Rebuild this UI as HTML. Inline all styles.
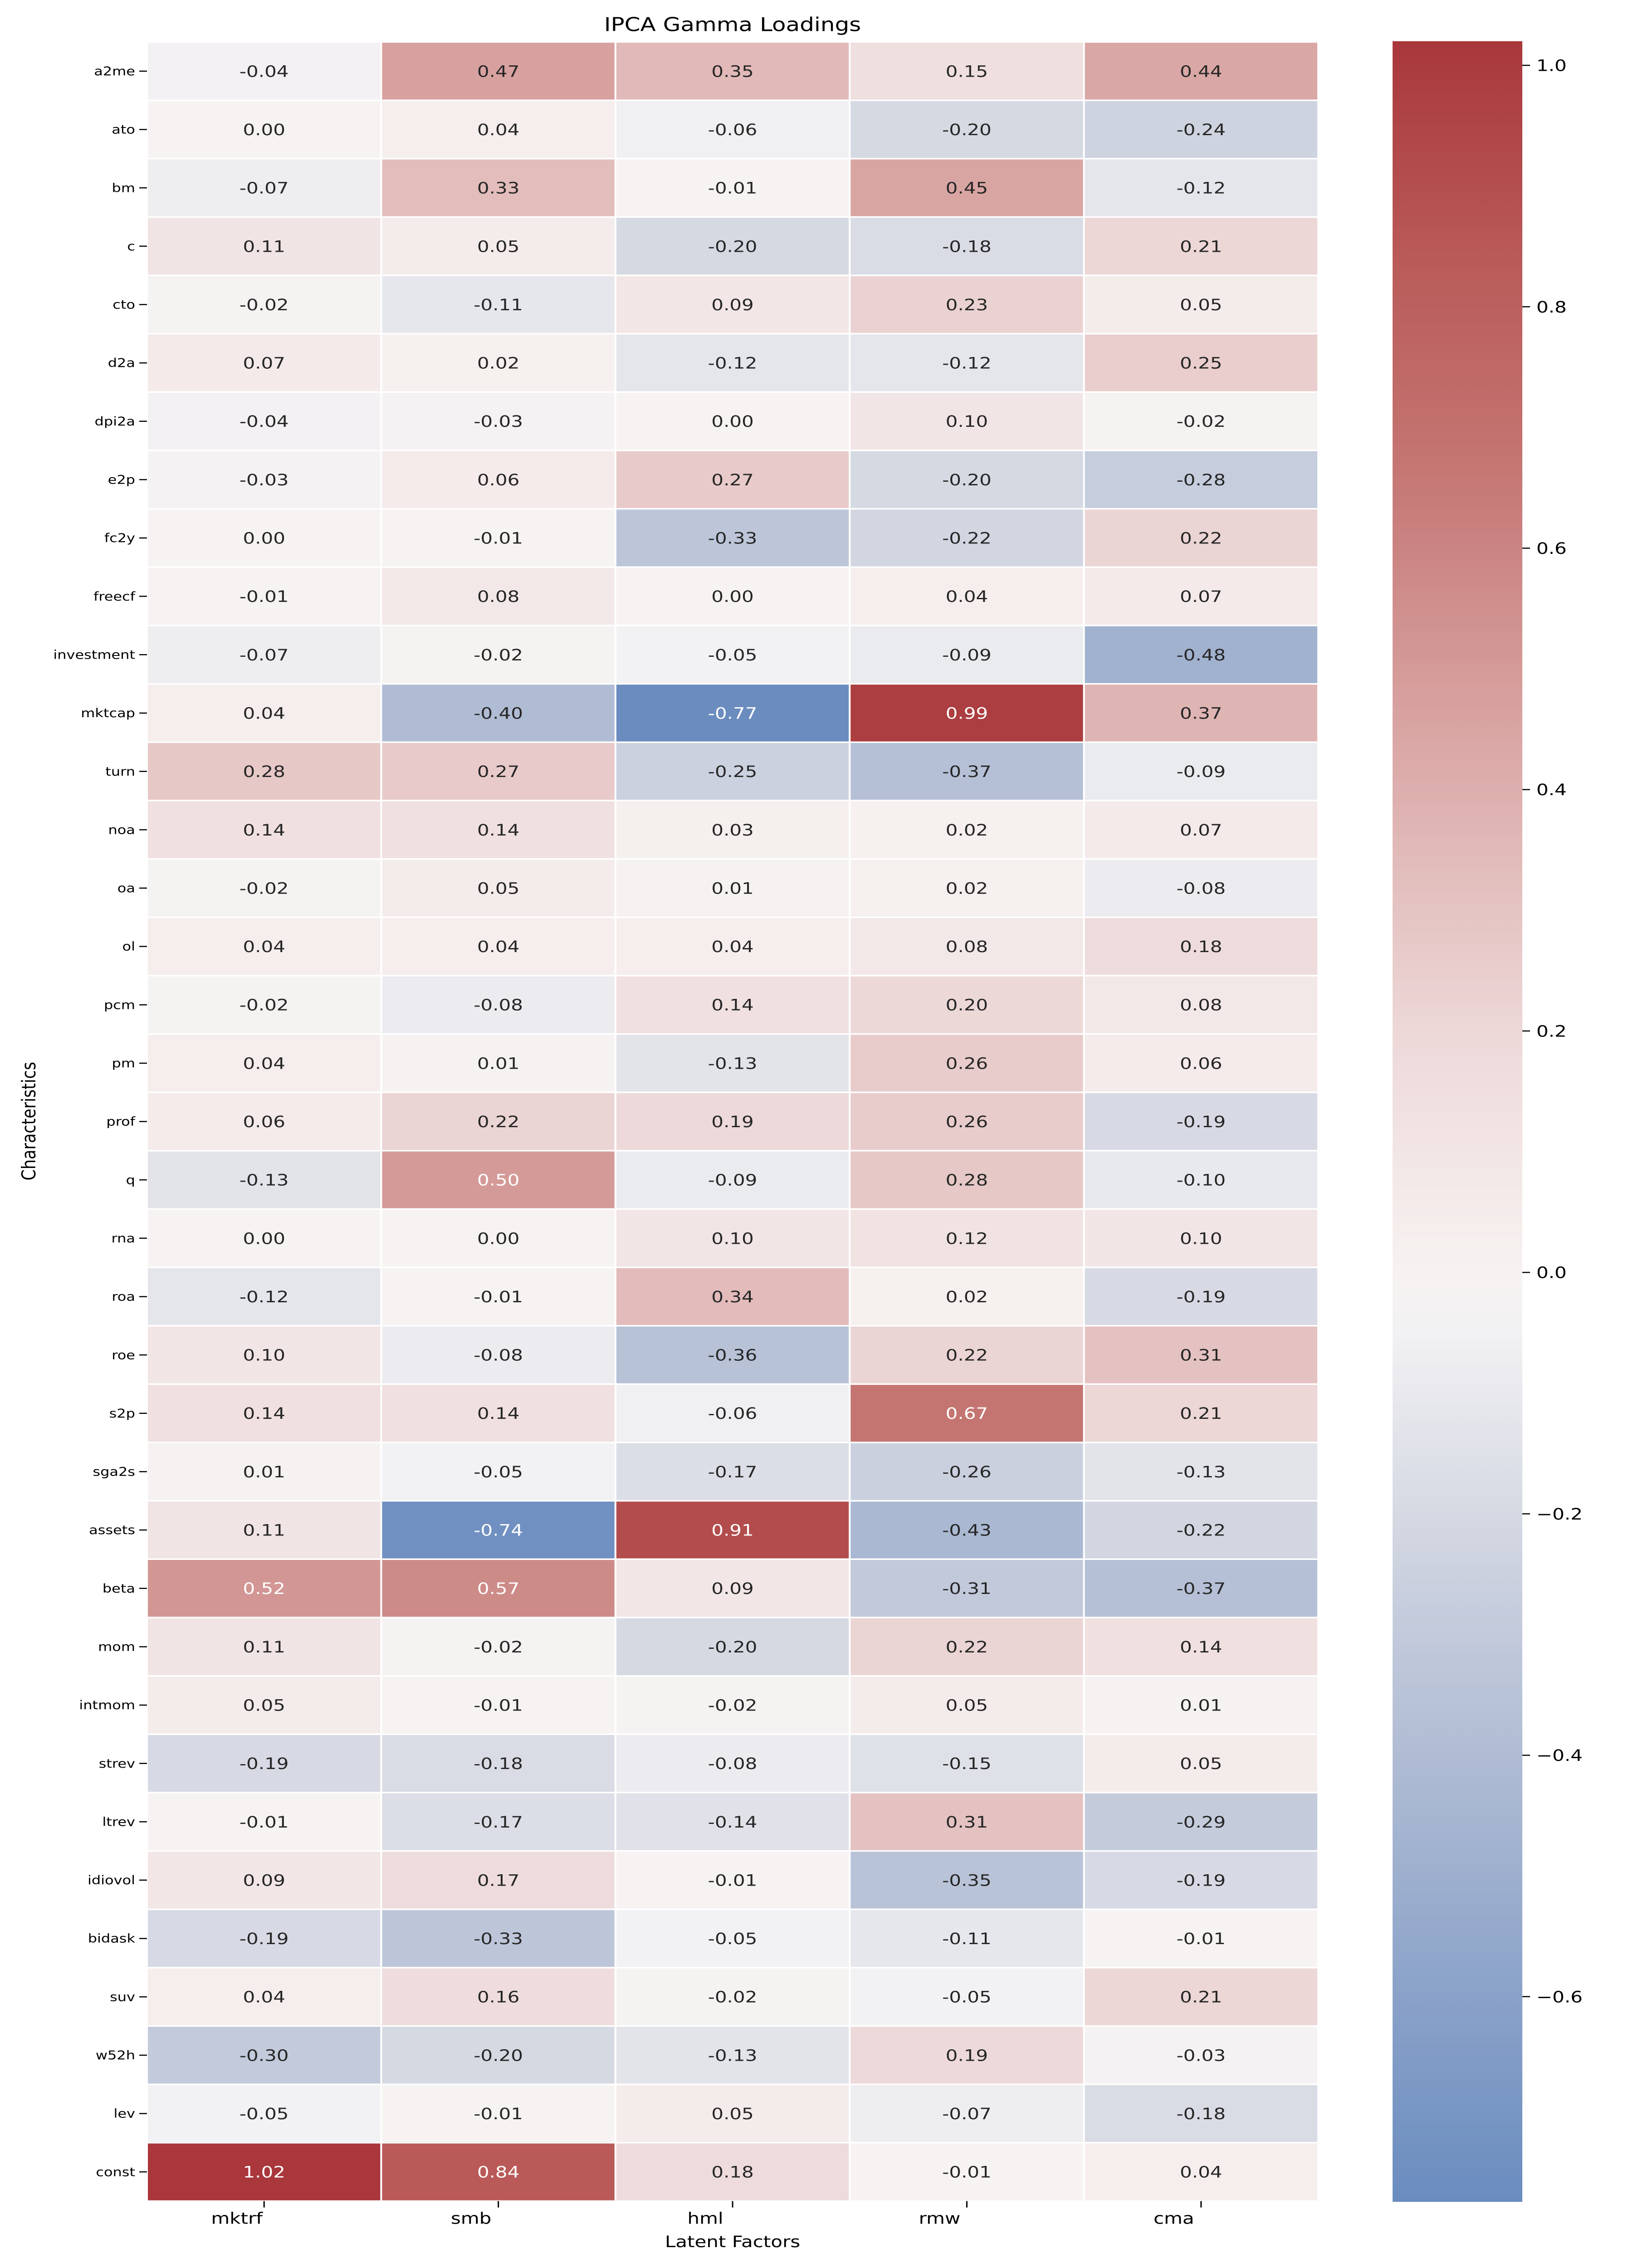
<!DOCTYPE html>
<html><head><meta charset="utf-8"><style>
html,body{margin:0;padding:0;background:#fff;width:100%;height:100%;overflow:hidden;}
svg{display:block;width:100vw;height:100vh;font-family:"DejaVu Sans","Liberation Sans",sans-serif;}
</style></head><body>
<svg id="chart" viewBox="0 0 3600 6000" preserveAspectRatio="none" xmlns="http://www.w3.org/2000/svg">
<rect width="3600" height="6000" fill="#fff"/>
<text x="1615" y="82" font-size="50" text-anchor="middle">IPCA Gamma Loadings</text>
<text x="1615" y="5945" font-size="42" text-anchor="middle">Latent Factors</text>
<text x="0" y="0" font-size="42" text-anchor="middle" transform="translate(78,2966) rotate(-90)">Characteristics</text>
<g id="cells"></g><g id="yticks"></g><g id="xticks"></g>
<defs><linearGradient id="cbgrad" x1="0" y1="1" x2="0" y2="0"></linearGradient></defs>
<rect x="3070" y="109" width="286" height="5716" fill="url(#cbgrad)"/>
<g id="cbticks"></g>
</svg>
<script>
const rows = ["a2me","ato","bm","c","cto","d2a","dpi2a","e2p","fc2y","freecf","investment","mktcap","turn","noa","oa","ol","pcm","pm","prof","q","rna","roa","roe","s2p","sga2s","assets","beta","mom","intmom","strev","ltrev","idiovol","bidask","suv","w52h","lev","const"];
const cols = ["mktrf","smb","hml","rmw","cma"];
const mktrf = [-0.04,0.00,-0.07,0.11,-0.02,0.07,-0.04,-0.03,-0.00,-0.01,-0.07,0.04,0.28,0.14,-0.02,0.04,-0.02,0.04,0.06,-0.13,0.00,-0.12,0.10,0.14,0.01,0.11,0.52,0.11,0.05,-0.19,-0.01,0.09,-0.19,0.04,-0.30,-0.05,1.02];
const smb = [0.47,0.04,0.33,0.05,-0.11,0.02,-0.03,0.06,-0.01,0.08,-0.02,-0.40,0.27,0.14,0.05,0.04,-0.08,0.01,0.22,0.50,-0.00,-0.01,-0.08,0.14,-0.05,-0.74,0.57,-0.02,-0.01,-0.18,-0.17,0.17,-0.33,0.16,-0.20,-0.01,0.84];
const hml = [0.35,-0.06,-0.01,-0.20,0.09,-0.12,0.00,0.27,-0.33,-0.00,-0.05,-0.77,-0.25,0.03,0.01,0.04,0.14,-0.13,0.19,-0.09,0.10,0.34,-0.36,-0.06,-0.17,0.91,0.09,-0.20,-0.02,-0.08,-0.14,-0.01,-0.05,-0.02,-0.13,0.05,0.18];
const rmw = [0.15,-0.20,0.45,-0.18,0.23,-0.12,0.10,-0.20,-0.22,0.04,-0.09,0.99,-0.37,0.02,0.02,0.08,0.20,0.26,0.26,0.28,0.12,0.02,0.22,0.67,-0.26,-0.43,-0.31,0.22,0.05,-0.15,0.31,-0.35,-0.11,-0.05,0.19,-0.07,-0.01];
const cma = [0.44,-0.24,-0.12,0.21,0.05,0.25,-0.02,-0.28,0.22,0.07,-0.48,0.37,-0.09,0.07,-0.08,0.18,0.08,0.06,-0.19,-0.10,0.10,-0.19,0.31,0.21,-0.13,-0.22,-0.37,0.14,0.01,0.05,-0.29,-0.19,-0.01,0.21,-0.03,-0.18,0.04];
const series = [mktrf, smb, hml, rmw, cma];
const cbTicks = [1.0,0.8,0.6,0.4,0.2,0.0,-0.2,-0.4,-0.6];

const NS="http://www.w3.org/2000/svg";
const X0=324,X1=2906,Y0=111,Y1=5823;
const cw=(X1-X0)/cols.length, rh=(Y1-Y0)/rows.length;
const all=series.flat();
const vmax=Math.max(...all), vmin=Math.min(...all);
const R=Math.max(Math.abs(vmax),Math.abs(vmin));
const stops=[[0,[35,105,189]],[0.123,[106,140,191]],[0.304,[176,188,212]],[0.40,[212,216,226]],[0.475,[242,241,243]],[0.5,[247,243,242]],[0.598,[237,216,216]],[0.73,[215,161,159]],[0.828,[196,117,114]],[0.91,[185,91,89]],[1,[169,55,59]]];
function cmap(v){let t=(v+R)/(2*R);t=Math.max(0,Math.min(1,t));
 for(let i=1;i<stops.length;i++){if(t<=stops[i][0]){const a=stops[i-1],b=stops[i];const f=(t-a[0])/(b[0]-a[0]);return a[1].map((c,k)=>Math.round(c+(b[1][k]-c)*f));}}return stops[stops.length-1][1];}
function rgb(c){return `rgb(${c[0]},${c[1]},${c[2]})`;}
function lum(c){const l=c.map(x=>{x/=255;return x<=0.03928?x/12.92:Math.pow((x+0.055)/1.055,2.4);});return 0.2126*l[0]+0.7152*l[1]+0.0722*l[2];}
function xs(j){return X0+j*cw;} function ys(i){return Y0+i*rh;}
function mk(tag,attrs,parent){const e=document.createElementNS(NS,tag);for(const k in attrs)e.setAttribute(k,attrs[k]);parent.appendChild(e);return e;}
const gc=document.getElementById('cells');
series.forEach((s,j)=>{s.forEach((v,i)=>{
 const c=cmap(v);
 const r=mk('rect',{x:xs(j),y:ys(i),width:cw,height:rh,fill:rgb(c),stroke:'#fff','stroke-width':4},gc);
 
 
 const t=mk('text',{x:xs(j)+cw/2,y:ys(i)+rh/2+15,'font-size':42,'text-anchor':'middle',fill:lum(c)<0.408?'#fff':'#262626'},gc);
 t.textContent=v.toFixed(2);
 
 
});});
const gy=document.getElementById('yticks');
rows.forEach((n,i)=>{const y=ys(i)+rh/2;
 mk('line',{x1:X0-17,x2:X0,y1:y,y2:y,stroke:'#000','stroke-width':3},gy);
 const t=mk('text',{x:X0-26,y:y+11,'font-size':32,'text-anchor':'end'},gy);t.textContent=n;
 
 
});
const gx=document.getElementById('xticks');
cols.forEach((n,j)=>{const x=xs(j)+cw/2;
 mk('line',{x1:x,x2:x,y1:Y1,y2:Y1+17,stroke:'#000','stroke-width':3},gx);
 const t=mk('text',{x:x-60,y:5883,'font-size':42,'text-anchor':'middle'},gx);t.textContent=n;
 
 
});
const grad=document.getElementById('cbgrad');
for(let k=0;k<=40;k++){const v=vmin+(vmax-vmin)*k/40;mk('stop',{offset:(k/40),'stop-color':rgb(cmap(v))},grad);}
const CB0=109,CB1=5825;
function cby(v){return CB1-(v-vmin)/(vmax-vmin)*(CB1-CB0);}
const gt=document.getElementById('cbticks');
cbTicks.forEach(v=>{const y=cby(v);
 mk('line',{x1:3356,x2:3373,y1:y,y2:y,stroke:'#000','stroke-width':3},gt);
 const t=mk('text',{x:3387,y:y+15,'font-size':42},gt);t.textContent=(v<0?'\u2212':'')+Math.abs(v).toFixed(1);
 
 
});
</script>
</body></html>
